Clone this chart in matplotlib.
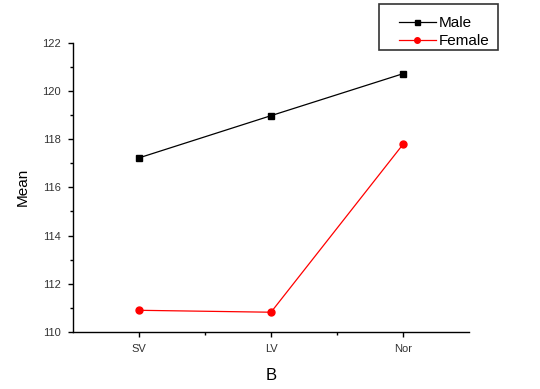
import matplotlib
matplotlib.use("Agg")
import matplotlib.pyplot as plt
from matplotlib.patches import Rectangle
from matplotlib.ticker import MultipleLocator, FixedLocator

plt.rcParams['font.family'] = ['Liberation Sans', 'DejaVu Sans']

categories = ["SV", "LV", "Nor"]
male = [117.22, 118.97, 120.71]
female = [110.90, 110.82, 117.78]
series_names = ["Male", "Female"]
yticks = [110, 112, 114, 116, 118, 120, 122]

fig = plt.figure(figsize=(5.4, 3.89), dpi=100)
ax = fig.add_axes([73/540, 1-332/389, (469-73)/540, (332-42.6)/389])

x = list(range(len(categories)))
ax.plot(x, male, color='black', lw=0.9, marker='s', ms=4.5, label=series_names[0])
ax.plot(x, female, color='red', lw=0.9, marker='o', ms=5, label=series_names[1])

ax.set_xlim(-0.5, 2.5)
ax.set_ylim(110, 122)
ax.set_xticks(x)
ax.set_xticklabels(categories)
ax.xaxis.set_minor_locator(FixedLocator([0.5, 1.5]))
ax.set_yticks(yticks)
ax.yaxis.set_minor_locator(MultipleLocator(1))
for s in ['top', 'right']:
    ax.spines[s].set_visible(False)
for s in ['left', 'bottom']:
    ax.spines[s].set_linewidth(1.0)
ax.tick_params(which='major', direction='out', length=3.5, width=1.0, labelsize=8, colors='black', pad=5)
ax.tick_params(which='minor', direction='out', length=2, width=1.0)
ax.tick_params(axis='x', labelcolor='#333333')
ax.tick_params(axis='y', labelcolor='#333333')
ax.set_ylabel("Mean", fontsize=11, labelpad=9)
ax.set_xlabel("B", fontsize=12, labelpad=10)

# legend frame
fig.patches.append(Rectangle((379/540, 1-50/389), (498-379)/540, (50-4.3)/389,
                             transform=fig.transFigure, fill=False, edgecolor='#333333', lw=1.2))
leg = fig.legend(loc='upper left', bbox_to_anchor=(399/540, 1-16/389), frameon=False,
                 fontsize=11, handlelength=2.4, handletextpad=0.2, labelspacing=0.28,
                 borderpad=0, borderaxespad=0, markerscale=0.8)
fig.savefig("out.png", dpi=100)
